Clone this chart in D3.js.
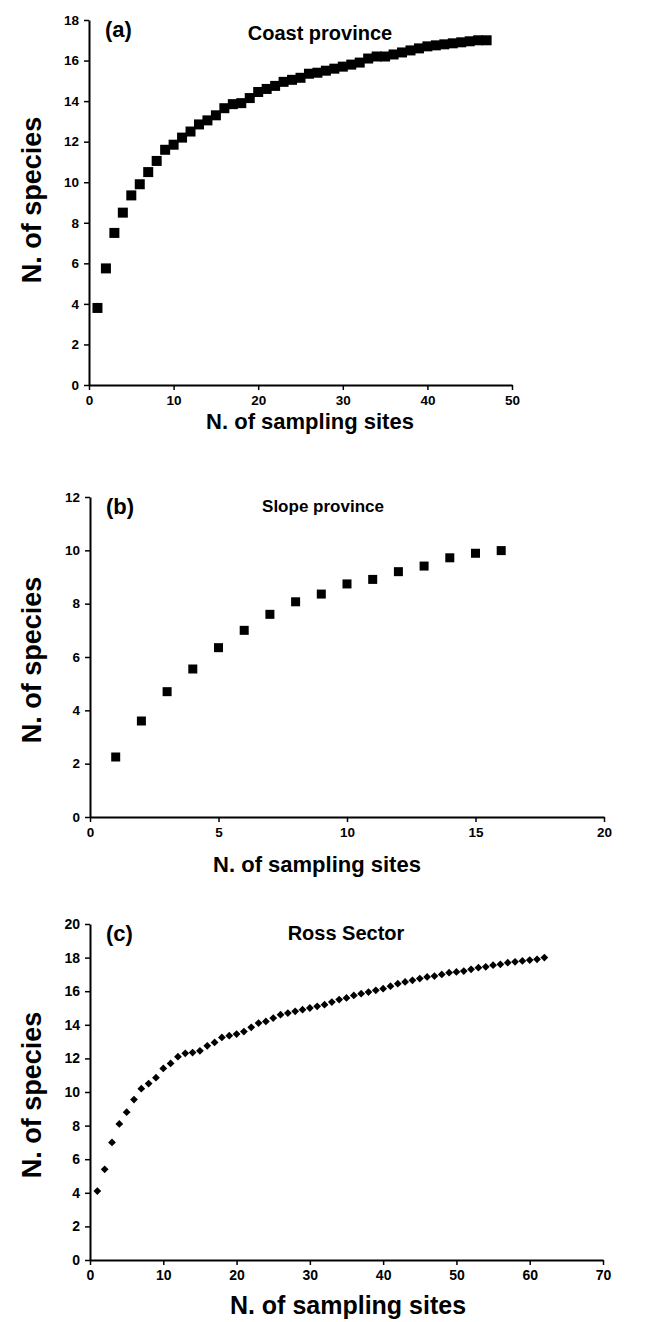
<!DOCTYPE html>
<html>
<head>
<meta charset="utf-8">
<script src="https://cdnjs.cloudflare.com/ajax/libs/d3/7.8.5/d3.min.js"></script>
<style>
  body { margin: 0; background: #fff; }
  svg { display: block; }
  text { font-family: "Liberation Sans", Arial, sans-serif; font-weight: bold; fill: #000; }
</style>
</head>
<body>
<svg width="646" height="1322"></svg>
<script>
// species accumulation, one value per number of sampling sites (1, 2, 3, ...)
const speciesCoast = [3.8, 5.75, 7.5, 8.5, 9.35, 9.9, 10.5, 11.05, 11.6, 11.85,
  12.2, 12.5, 12.85, 13.05, 13.3, 13.65, 13.85, 13.9, 14.15, 14.45,
  14.6, 14.75, 14.95, 15.05, 15.15, 15.35, 15.4, 15.5, 15.6, 15.7,
  15.8, 15.9, 16.1, 16.2, 16.2, 16.3, 16.4, 16.5, 16.6, 16.7,
  16.75, 16.8, 16.85, 16.9, 16.95, 17.0, 17.0];
const speciesSlope = [2.25, 3.6, 4.7, 5.55, 6.35, 7.0, 7.6, 8.07, 8.36, 8.74,
  8.91, 9.2, 9.41, 9.72, 9.89, 9.99];
const speciesRoss = [4.1, 5.4, 7.0, 8.1, 8.8, 9.55, 10.2, 10.5, 10.85, 11.4,
  11.7, 12.1, 12.3, 12.35, 12.45, 12.75, 12.95, 13.25, 13.35, 13.45,
  13.6, 13.85, 14.1, 14.2, 14.4, 14.6, 14.7, 14.8, 14.9, 15.0,
  15.1, 15.2, 15.35, 15.5, 15.6, 15.75, 15.85, 15.95, 16.05, 16.15,
  16.3, 16.45, 16.55, 16.65, 16.75, 16.85, 16.9, 17.0, 17.1, 17.15,
  17.2, 17.3, 17.4, 17.45, 17.55, 17.6, 17.7, 17.75, 17.8, 17.85,
  17.9, 18.0];

const xTicksCoast = [0, 10, 20, 30, 40, 50];
const yTicksCoast = [0, 2, 4, 6, 8, 10, 12, 14, 16, 18];
const xTicksSlope = [0, 5, 10, 15, 20];
const yTicksSlope = [0, 2, 4, 6, 8, 10, 12];
const xTicksRoss = [0, 10, 20, 30, 40, 50, 60, 70];
const yTicksRoss = [0, 2, 4, 6, 8, 10, 12, 14, 16, 18, 20];

const xLabel = "N. of sampling sites";
const yLabel = "N. of species";

const svg = d3.select("svg");

const panels = [
  {tag: "(a)", name: "Coast province", values: speciesCoast, xt: xTicksCoast, yt: yTicksCoast,
   left: 89, right: 512, top: 20, bottom: 385, nameX: 320, nameY: 40, nameSize: 20,
   marker: "square", msize: 10, tickSize: 13.5, yTitleY: 200, xTitleX: 310, xTitleY: 429, xTitleSize: 22},
  {tag: "(b)", name: "Slope province", values: speciesSlope, xt: xTicksSlope, yt: yTicksSlope,
   left: 90, right: 604, top: 497, bottom: 817, nameX: 323, nameY: 512, nameSize: 17,
   marker: "square", msize: 9, tickSize: 13.5, yTitleY: 660, xTitleX: 317, xTitleY: 872, xTitleSize: 22},
  {tag: "(c)", name: "Ross Sector", values: speciesRoss, xt: xTicksRoss, yt: yTicksRoss,
   left: 90, right: 603, top: 924, bottom: 1260, nameX: 346, nameY: 940, nameSize: 20,
   marker: "diamond", msize: 5.5, tickSize: 14, yTitleY: 1095, xTitleX: 348, xTitleY: 1314, xTitleSize: 25}
];

panels.forEach(p => {
  const x = d3.scaleLinear().domain(d3.extent(p.xt)).range([p.left, p.right]);
  const y = d3.scaleLinear().domain(d3.extent(p.yt)).range([p.bottom, p.top]);
  const g = svg.append("g");

  const yAxis = g.append("g")
      .attr("transform", `translate(${p.left},0)`)
      .call(d3.axisLeft(y).tickValues(p.yt).tickSize(5).tickSizeOuter(0).tickPadding(5));
  const xAxis = g.append("g")
      .attr("transform", `translate(0,${p.bottom})`)
      .call(d3.axisBottom(x).tickValues(p.xt).tickSize(5).tickSizeOuter(0).tickPadding(5));
  [xAxis, yAxis].forEach(a => {
    a.attr("font-family", null).attr("font-size", null);
    a.select(".domain").attr("stroke", "#000").attr("stroke-width", 2);
    a.selectAll(".tick line").attr("stroke", "#000").attr("stroke-width", 1.5);
    a.selectAll(".tick text")
      .attr("fill", "#000")
      .style("font-size", p.tickSize + "px")
      .style("font-weight", "bold");
  });

  const side = p.msize;
  g.append("g").selectAll("rect")
    .data(p.values)
    .join("rect")
      .attr("x", -side / 2)
      .attr("y", -side / 2)
      .attr("width", side)
      .attr("height", side)
      .attr("fill", "#000")
      .attr("transform", (d, i) => `translate(${x(i + 1)},${y(d)})` + (p.marker === "diamond" ? " rotate(45)" : ""));

  g.append("text")
    .attr("x", p.left + 16)
    .attr("y", p.top + 17)
    .style("font-size", "22px")
    .text(p.tag);

  g.append("text")
    .attr("x", p.nameX)
    .attr("y", p.nameY)
    .attr("text-anchor", "middle")
    .style("font-size", p.nameSize + "px")
    .text(p.name);

  g.append("text")
    .attr("x", p.xTitleX)
    .attr("y", p.xTitleY)
    .attr("text-anchor", "middle")
    .style("font-size", p.xTitleSize + "px")
    .text(xLabel);

  g.append("text")
    .attr("transform", `translate(41,${p.yTitleY}) rotate(-90)`)
    .attr("text-anchor", "middle")
    .style("font-size", "27px")
    .text(yLabel);
});
</script>
</body>
</html>
